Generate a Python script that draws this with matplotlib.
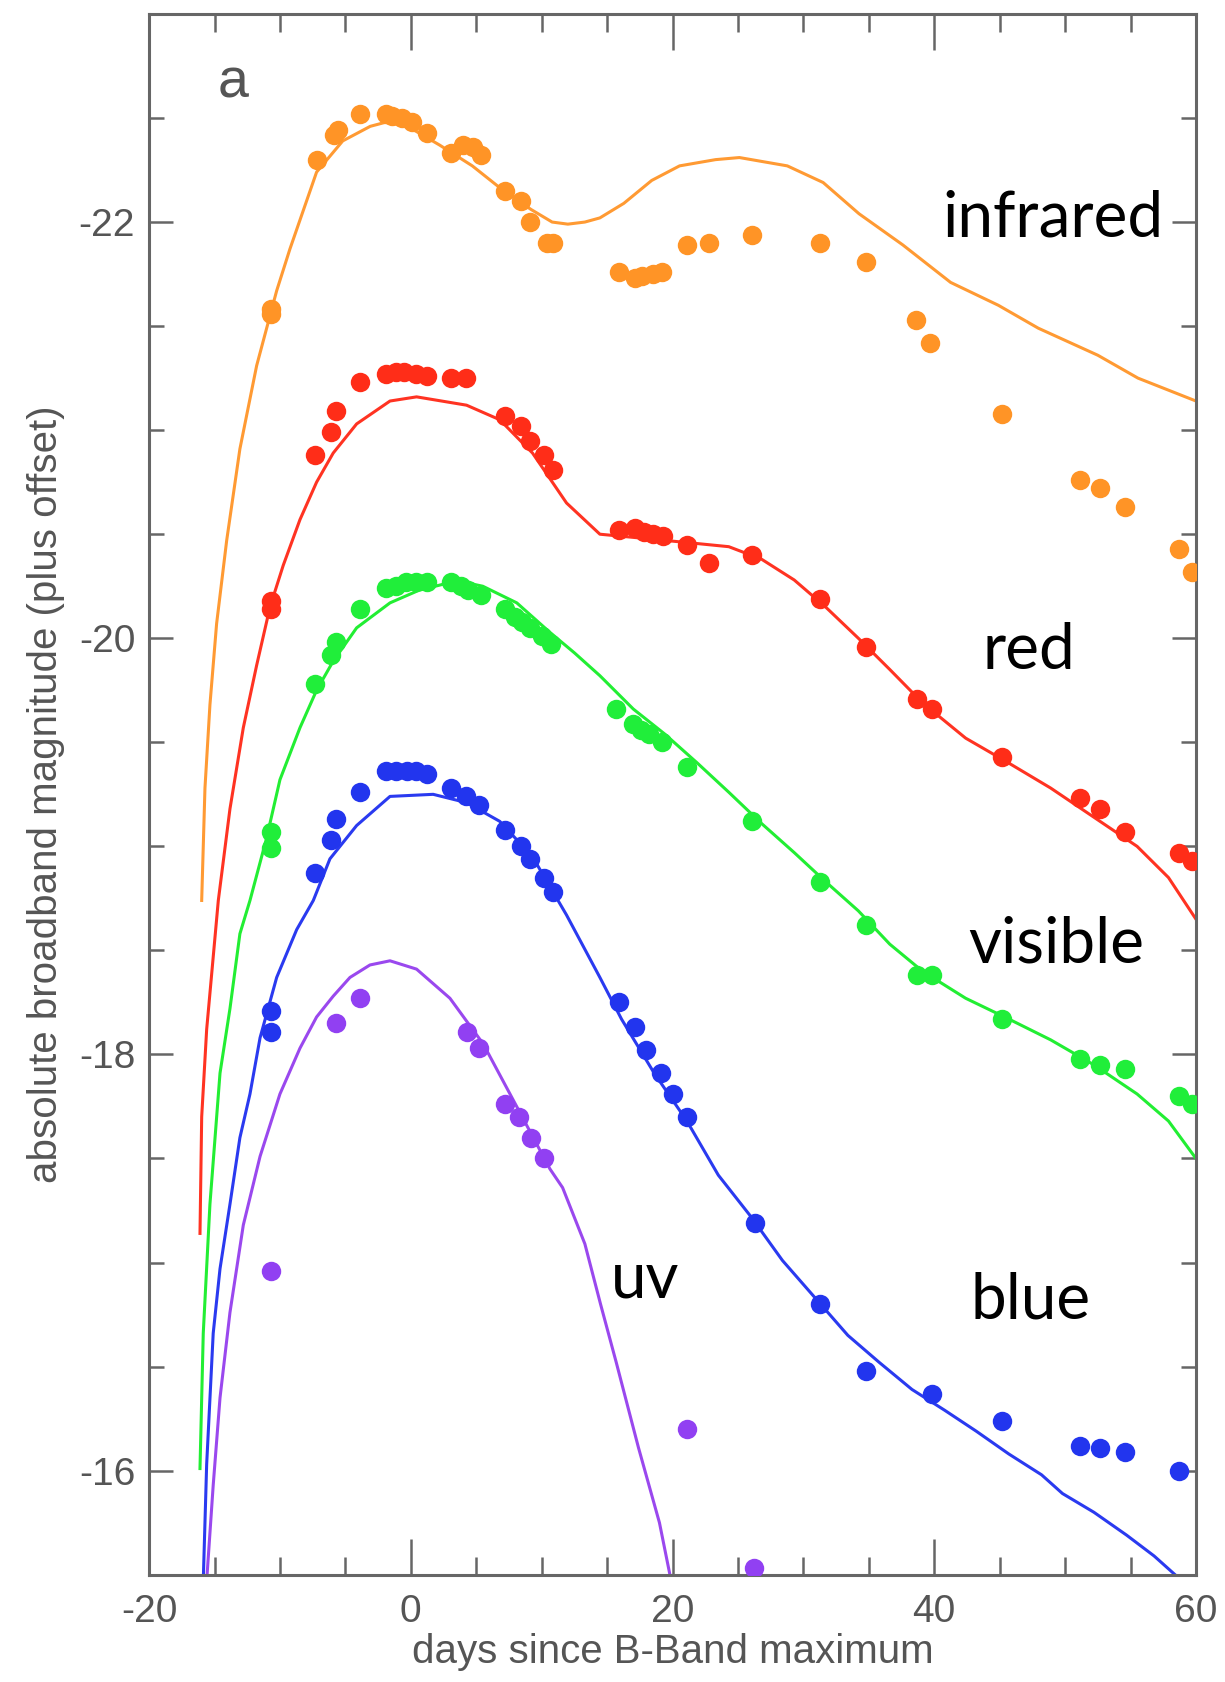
import matplotlib
matplotlib.use("Agg")
import matplotlib.pyplot as plt
from matplotlib.ticker import MultipleLocator

# ---- measured light curves (days since B max, absolute magnitude + offset)
ir_day = [-10.7, -10.7, -7.2, -5.9, -5.6, -3.85, -1.9, -1.4, -0.7, 0.1, 1.2,
          3.1, 4.0, 4.75, 5.4, 7.2, 8.4, 9.1, 10.4, 10.9, 15.9, 17.1, 17.7,
          18.5, 19.2, 21.1, 22.8, 26.1, 31.3, 34.8, 38.6, 39.7, 45.2, 51.1,
          52.7, 54.6, 58.7, 59.7]
ir_mag = [-21.58, -21.56, -22.30, -22.42, -22.44, -22.52, -22.52, -22.51,
          -22.50, -22.48, -22.43, -22.33, -22.37, -22.36, -22.32, -22.15,
          -22.10, -22.00, -21.90, -21.90, -21.76, -21.73, -21.74, -21.75,
          -21.76, -21.89, -21.90, -21.94, -21.90, -21.81, -21.53, -21.42,
          -21.08, -20.76, -20.72, -20.63, -20.43, -20.32]

red_day = [-10.7, -10.7, -7.3, -6.1, -5.7, -3.85, -1.9, -1.1, -0.5, 0.4, 1.2,
           3.1, 4.2, 7.2, 8.4, 9.1, 10.2, 10.9, 15.9, 17.1, 17.8, 18.5, 19.3,
           21.1, 22.8, 26.1, 31.3, 34.8, 38.7, 39.8, 45.2, 51.1, 52.7, 54.6,
           58.7, 59.7]
red_mag = [-20.14, -20.18, -20.88, -20.99, -21.09, -21.23, -21.27, -21.28,
           -21.28, -21.27, -21.26, -21.25, -21.25, -21.07, -21.02, -20.95,
           -20.88, -20.81, -20.52, -20.53, -20.51, -20.50, -20.49, -20.45,
           -20.36, -20.40, -20.19, -19.96, -19.71, -19.66, -19.43, -19.23,
           -19.18, -19.07, -18.97, -18.93]

vis_day = [-10.7, -10.7, -7.3, -6.1, -5.7, -3.85, -1.9, -1.1, -0.4, 0.4, 1.2,
           3.1, 3.85, 4.4, 5.4, 7.2, 8.0, 8.5, 9.1, 10.0, 10.7, 15.7, 17.0,
           17.6, 18.2, 19.2, 21.1, 26.1, 31.3, 34.8, 38.7, 39.8, 45.2, 51.1,
           52.7, 54.6, 58.7, 59.7]
vis_mag = [-19.07, -18.99, -19.78, -19.92, -19.98, -20.14, -20.24, -20.25,
           -20.27, -20.27, -20.27, -20.27, -20.25, -20.23, -20.21, -20.14,
           -20.10, -20.08, -20.05, -20.01, -19.97, -19.66, -19.59, -19.56,
           -19.54, -19.50, -19.38, -19.12, -18.83, -18.62, -18.38, -18.38,
           -18.17, -17.98, -17.95, -17.93, -17.80, -17.76]

blue_day = [-10.7, -10.7, -7.3, -6.1, -5.7, -3.85, -1.9, -1.1, -0.3, 0.4, 1.2,
            3.1, 4.2, 5.2, 7.2, 8.4, 9.1, 10.2, 10.9, 15.9, 17.1, 18.0, 19.1,
            20.0, 21.1, 26.3, 31.3, 34.8, 39.8, 45.2, 51.1, 52.7, 54.6, 58.7]
blue_mag = [-18.21, -18.11, -18.87, -19.03, -19.13, -19.26, -19.36, -19.36,
            -19.36, -19.36, -19.35, -19.28, -19.24, -19.20, -19.08, -19.00,
            -18.94, -18.85, -18.78, -18.25, -18.13, -18.02, -17.91, -17.81,
            -17.70, -17.19, -16.80, -16.48, -16.37, -16.24, -16.12, -16.11,
            -16.09, -16.00]

uv_day = [-10.7, -5.7, -3.85, 4.3, 5.2, 7.2, 8.3, 9.2, 10.2, 21.1, 26.2]
uv_mag = [-16.96, -18.15, -18.27, -18.11, -18.03, -17.76, -17.70, -17.60,
          -17.50, -16.20, -15.53]

# ---- model curves
ir_fit_day = [-15.98, -15.73, -15.35, -14.84, -14.07, -13.06, -11.78, -10.25,
              -9.24, -7.2, -5.2, -3.1, -1.9, -0.25, 2.2, 4.7, 7.1, 9.2, 10.8,
              12.0, 13.3, 14.45, 16.28, 18.41, 20.54, 23.29, 25.11, 28.77,
              31.51, 34.25, 37.6, 41.25, 44.9, 47.95, 52.5, 55.57, 60.0]
ir_fit_mag = [-18.74, -19.28, -19.68, -20.07, -20.47, -20.91, -21.31, -21.67,
              -21.87, -22.24, -22.39, -22.46, -22.48, -22.46, -22.37, -22.27,
              -22.15, -22.06, -22.00, -21.99, -22.00, -22.02, -22.09, -22.20,
              -22.27, -22.30, -22.31, -22.27, -22.19, -22.04, -21.89, -21.71,
              -21.60, -21.49, -21.36, -21.25, -21.14]

red_fit_day = [-16.11, -15.98, -15.6, -14.71, -13.82, -12.80, -11.78, -10.76,
               -9.75, -8.47, -7.2, -5.93, -4.14, -1.59, 0.44, 4.26, 6.8, 9.3,
               11.9, 14.45, 17.8, 21.1, 24.3, 26.8, 29.3, 31.7, 34.2, 36.6,
               39.1, 42.4, 45.7, 48.9, 52.2, 55.5, 57.9, 60.0]
red_fit_mag = [-17.14, -17.70, -18.12, -18.74, -19.18, -19.57, -19.87, -20.15,
               -20.35, -20.57, -20.75, -20.89, -21.03, -21.14, -21.16, -21.12,
               -21.05, -20.89, -20.65, -20.50, -20.48, -20.46, -20.44, -20.38,
               -20.28, -20.15, -20.00, -19.85, -19.69, -19.52, -19.40, -19.28,
               -19.14, -19.00, -18.85, -18.65]

vis_fit_day = [-16.11, -15.86, -15.35, -14.58, -13.82, -13.06, -12.29, -11.02,
               -10.0, -8.47, -7.2, -5.93, -4.14, -1.59, 0.6, 2.5, 4.0, 5.5,
               8.1, 10.6, 12.5, 14.45, 17.0, 19.4, 21.9, 24.3, 26.8, 29.3,
               31.7, 34.2, 36.6, 39.1, 42.4, 45.7, 48.9, 52.2, 55.5, 57.9, 60.0]
vis_fit_mag = [-16.01, -16.66, -17.28, -17.91, -18.22, -18.58, -18.74, -19.04,
               -19.32, -19.57, -19.75, -19.89, -20.05, -20.17, -20.23, -20.26,
               -20.27, -20.25, -20.17, -20.03, -19.93, -19.82, -19.66, -19.54,
               -19.40, -19.26, -19.11, -18.97, -18.83, -18.69, -18.53, -18.40,
               -18.27, -18.17, -18.07, -17.95, -17.81, -17.68, -17.50]

blue_fit_day = [-15.86, -15.6, -15.1, -14.58, -13.82, -13.06, -12.29, -11.52,
                -10.25, -8.72, -7.45, -6.18, -4.14, -1.59, 1.71, 4.26, 6.8,
                9.3, 11.9, 14.45, 16.1, 18.6, 21.1, 23.5, 26.0, 28.4, 30.9,
                33.4, 35.8, 38.3, 40.8, 43.2, 45.7, 48.2, 49.8, 52.2, 54.7,
                56.8, 58.4]
blue_fit_mag = [-15.47, -16.03, -16.66, -16.97, -17.28, -17.60, -17.81, -18.08,
                -18.37, -18.60, -18.74, -18.94, -19.10, -19.24, -19.25, -19.21,
                -19.12, -18.95, -18.67, -18.37, -18.17, -17.91, -17.68, -17.42,
                -17.22, -17.01, -16.83, -16.65, -16.52, -16.39, -16.29, -16.19,
                -16.08, -15.98, -15.89, -15.80, -15.69, -15.59, -15.50]

uv_fit_day = [-15.6, -15.1, -14.58, -13.82, -12.80, -11.52, -10.0, -8.47,
              -7.2, -5.93, -4.65, -3.12, -1.59, 0.44, 2.99, 5.54, 8.09, 10.63,
              11.6, 13.3, 14.5, 15.7, 17.4, 19.0, 19.8]
uv_fit_mag = [-15.47, -15.93, -16.35, -16.76, -17.18, -17.51, -17.81, -18.03,
              -18.18, -18.28, -18.37, -18.43, -18.45, -18.41, -18.27, -18.05,
              -17.75, -17.45, -17.36, -17.09, -16.80, -16.52, -16.11, -15.75,
              -15.50]

band_names = ["infrared", "red", "visible", "blue", "uv"]
label_day = [40.6, 43.7, 42.6, 42.8, 15.3]
label_mag = [-21.93, -19.85, -18.44, -16.73, -16.83]

dot_colors = ["#ff9426", "#ff2d18", "#20ee3a", "#2235ee", "#9140f2"]
line_colors = ["#ff9a33", "#ff3322", "#22ee33", "#2a3af0", "#9a48ee"]

bands = [
    (ir_day, ir_mag, ir_fit_day, ir_fit_mag),
    (red_day, red_mag, red_fit_day, red_fit_mag),
    (vis_day, vis_mag, vis_fit_day, vis_fit_mag),
    (blue_day, blue_mag, blue_fit_day, blue_fit_mag),
    (uv_day, uv_mag, uv_fit_day, uv_fit_mag),
]

grey = "#666666"
plt.rcParams["font.family"] = ["Liberation Sans", "DejaVu Sans"]
plt.rcParams["axes.unicode_minus"] = False

fig = plt.figure(figsize=(12.25, 16.82), dpi=100)
ax = fig.add_axes([0.1217, 0.0638, 0.8546, 0.9279])

for (d, m, fd, fm), dc, lc in zip(bands, dot_colors, line_colors):
    ax.plot(fd, fm, color=lc, lw=2.2, zorder=2, solid_joinstyle="round")
    ax.plot(d, m, "o", color=dc, ms=14, mec="none", zorder=3)

for name, x, y in zip(band_names, label_day, label_mag):
    ax.text(x, y, name, fontsize=46, family=["Lato", "DejaVu Sans"],
            ha="left", va="baseline", color="black", zorder=5,
            bbox=dict(facecolor="white", edgecolor="none", pad=1.0))

ax.text(-14.75, -22.60, "a", fontsize=40, color="#555555", ha="left",
        va="baseline")

ax.set_xlim(-20, 60)
ax.set_ylim(-15.5, -23.0)

ax.xaxis.set_major_locator(MultipleLocator(20))
ax.xaxis.set_minor_locator(MultipleLocator(5))
ax.yaxis.set_major_locator(MultipleLocator(2))
ax.yaxis.set_minor_locator(MultipleLocator(0.5))

ax.tick_params(axis="both", which="both", direction="in", top=True,
               right=True, color=grey, width=1.8, labelcolor="#555555",
               labelsize=28)
ax.tick_params(axis="x", which="major", length=26, pad=14)
ax.tick_params(axis="x", which="minor", length=13)
ax.tick_params(axis="y", which="major", length=17, pad=10)
ax.tick_params(axis="y", which="minor", length=11)

for s in ax.spines.values():
    s.set_color(grey)
    s.set_linewidth(2.2)

ax.set_xlabel("days since B-Band maximum", fontsize=29, color="#555555",
              labelpad=2)
ax.set_ylabel("absolute broadband magnitude (plus offset)", fontsize=29,
              color="#555555", labelpad=10)

fig.savefig("out.png", dpi=100)
